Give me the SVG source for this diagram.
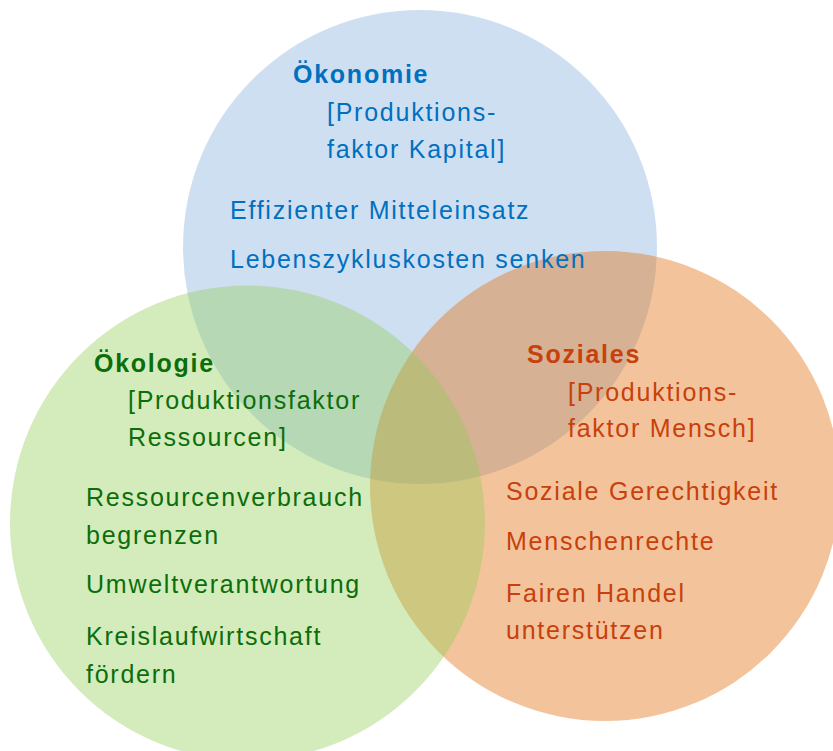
<svg xmlns="http://www.w3.org/2000/svg" width="833" height="751" viewBox="0 0 833 751">
<style>
  .c { fill-opacity: 0.4; stroke: none; }
  text { font-family: "Liberation Sans", Arial, sans-serif; font-size: 25px; letter-spacing: 1.75px; }
  .h { font-weight: bold; }
  .blue { fill: #0070C0; }
  .green { fill: #0B6E0B; }
  .orange { fill: #C8400C; }
</style>
<rect x="0" y="0" width="833" height="751" fill="#FFFFFF"/>
<g id="oekonomie">
  <circle class="c" cx="420" cy="247" r="237" fill="#87AFDE"/>
</g>
<g id="soziales">
  <circle class="c" cx="605" cy="486" r="235" fill="#E16B08"/>
</g>
<g id="oekologie">
  <circle class="c" cx="247.5" cy="523" r="237.5" fill="#94CD58"/>
</g>
<g id="oekonomie-text" class="blue">
  <text class="h" x="293" y="83">Ökonomie</text>
  <text x="327" y="121">[Produktions-</text>
  <text x="327" y="158">faktor Kapital]</text>
  <text x="230" y="219">Effizienter Mitteleinsatz</text>
  <text x="230" y="268">Lebenszykluskosten senken</text>
</g>
<g id="oekologie-text" class="green">
  <text class="h" x="94" y="372">Ökologie</text>
  <text x="128" y="409">[Produktionsfaktor</text>
  <text x="128" y="446">Ressourcen]</text>
  <text x="86" y="506">Ressourcenverbrauch</text>
  <text x="86" y="544">begrenzen</text>
  <text x="86" y="593">Umweltverantwortung</text>
  <text x="86" y="645">Kreislaufwirtschaft</text>
  <text x="86" y="683">fördern</text>
</g>
<g id="soziales-text" class="orange">
  <text class="h" x="527" y="363">Soziales</text>
  <text x="568" y="401">[Produktions-</text>
  <text x="568" y="437">faktor Mensch]</text>
  <text x="506" y="500">Soziale Gerechtigkeit</text>
  <text x="506" y="550">Menschenrechte</text>
  <text x="506" y="602">Fairen Handel</text>
  <text x="506" y="639">unterstützen</text>
</g>
</svg>
